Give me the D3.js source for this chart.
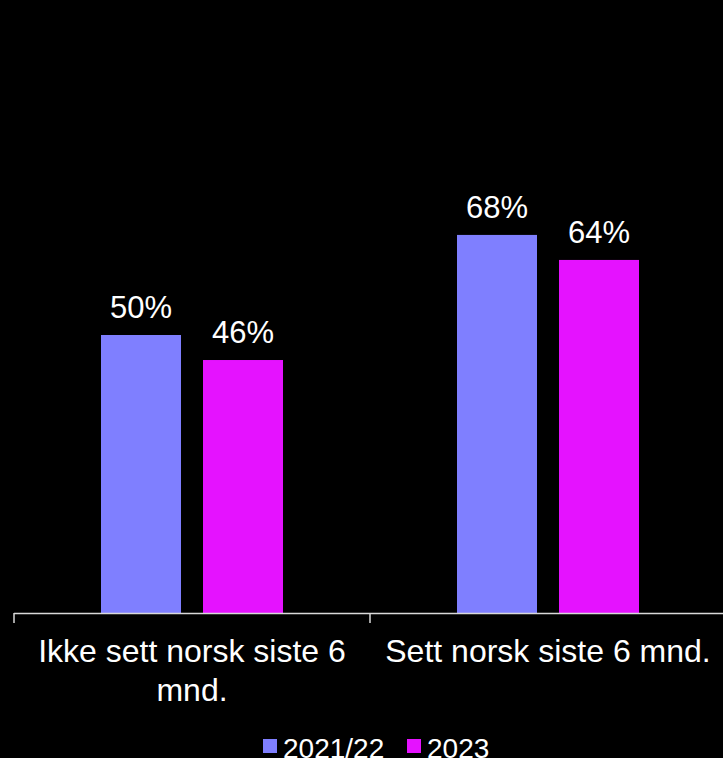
<!DOCTYPE html>
<html>
<head>
<meta charset="utf-8">
<script src="https://cdn.jsdelivr.net/npm/d3@7"></script>
<style>
  html, body { margin: 0; padding: 0; background: #000; }
  svg { display: block; }
  text { font-family: "Liberation Sans", Arial, sans-serif; fill: #fff; }
</style>
</head>
<body>
<svg id="chart" width="723" height="758"></svg>
<script>
const categories = ["Ikke sett norsk siste 6 mnd.", "Sett norsk siste 6 mnd."];
const seriesNames = ["2021/22", "2023"];
const values2021 = [50, 68];
const values2023 = [45.5, 63.5];
const seriesColors = ["#7f7fff", "#e512ff"];

const seriesValues = [values2021, values2023];
const W = 723, H = 758;
const svg = d3.select("#chart");

const x0 = d3.scaleBand().domain(categories).range([14, 726]).padding(0);
const x1 = d3.scaleBand().domain(seriesNames).range([87, 269]).paddingInner(0.2157).paddingOuter(0);
const y = d3.scaleLinear().domain([0, 100]).range([613, 57]);

const data = [];
categories.forEach((c, i) => {
  seriesNames.forEach((s, j) => {
    data.push({ cat: c, series: s, value: seriesValues[j][i], color: seriesColors[j] });
  });
});

const g = svg.append("g");
g.selectAll("rect.bar").data(data).join("rect")
  .attr("class", "bar")
  .attr("x", d => x0(d.cat) + x1(d.series))
  .attr("width", x1.bandwidth())
  .attr("y", d => y(d.value))
  .attr("height", d => y(0) - y(d.value))
  .attr("fill", d => d.color);

g.selectAll("text.val").data(data).join("text")
  .attr("class", "val")
  .attr("x", d => x0(d.cat) + x1(d.series) + x1.bandwidth() / 2)
  .attr("y", d => y(d.value) - 17)
  .attr("text-anchor", "middle")
  .style("font-size", "31px")
  .text(d => Math.round(d.value) + "%");

// axis
const axisG = svg.append("g");
axisG.append("line")
  .attr("x1", x0.range()[0]).attr("x2", W)
  .attr("y1", y(0) + 0.5).attr("y2", y(0) + 0.5)
  .attr("stroke", "#d9d9d9").attr("stroke-width", 1.5);
const boundaries = categories.map(c => x0(c)).concat([x0.range()[1]]);
axisG.selectAll("line.tick").data(boundaries).join("line")
  .attr("class", "tick")
  .attr("x1", d => d).attr("x2", d => d)
  .attr("y1", y(0)).attr("y2", y(0) + 10)
  .attr("stroke", "#d9d9d9").attr("stroke-width", 1.5);

// category labels with wrapping
categories.forEach(c => {
  const cx = x0(c) + x0.bandwidth() / 2;
  const t = svg.append("text")
    .attr("x", cx).attr("y", 662)
    .attr("text-anchor", "middle")
    .style("font-size", "32px");
  const words = c.split(" ");
  let line = [];
  let lineNo = 0;
  let tspan = t.append("tspan").attr("x", cx).attr("y", 662);
  words.forEach(w => {
    line.push(w);
    tspan.text(line.join(" "));
    if (tspan.node().getComputedTextLength() > 345 && line.length > 1) {
      line.pop();
      tspan.text(line.join(" "));
      line = [w];
      lineNo++;
      tspan = t.append("tspan").attr("x", cx).attr("y", 662 + lineNo * 39).text(w);
    }
  });
});

// legend
const legendX = [263, 407];
const leg = svg.append("g");
seriesNames.forEach((s, i) => {
  leg.append("rect")
    .attr("x", legendX[i]).attr("y", 739)
    .attr("width", 14).attr("height", 14)
    .attr("fill", seriesColors[i]);
  leg.append("text")
    .attr("x", legendX[i] + 20).attr("y", 758)
    .style("font-size", "28px")
    .text(s);
});
</script>
</body>
</html>
